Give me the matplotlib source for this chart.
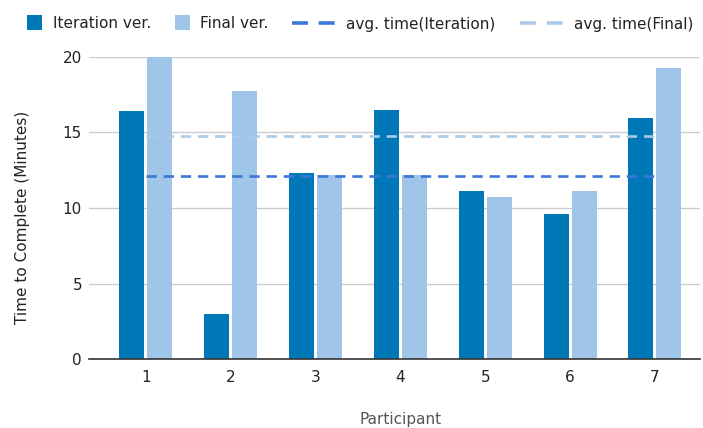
import numpy as np
import matplotlib
matplotlib.use("Agg")
import matplotlib.pyplot as plt
from matplotlib.patches import Rectangle
from matplotlib.lines import Line2D

participants = [1, 2, 3, 4, 5, 6, 7]
iteration_ver = [16.4, 3.0, 12.3, 16.45, 11.15, 9.6, 15.95]
final_ver = [19.95, 17.75, 12.2, 12.2, 10.75, 11.1, 19.25]
y_ticks = [0, 5, 10, 15, 20]
legend_labels = ["Iteration ver.", "Final ver.", "avg. time(Iteration)", "avg. time(Final)"]

c_iter = "#0077b6"
c_final = "#9fc5e8"
c_avg_iter = "#3c78d8"
c_avg_final = "#a9cbea"
c_text = "#222222"

plt.rcParams["font.family"] = ["DejaVu Sans"]

W, H = 703, 428
fig = plt.figure(figsize=(W / 100, H / 100), dpi=100)
ax = fig.add_axes([0.1266, 0.1605, 0.869, 0.707])

x = np.array(participants, dtype=float)
w = 0.295
gap = 0.035
ax.bar(x - w / 2 - gap / 2, iteration_ver, width=w, color=c_iter, zorder=2)
ax.bar(x + w / 2 + gap / 2, final_ver, width=w, color=c_final, zorder=2)

avg_iter = np.mean(iteration_ver)
avg_final = np.mean(final_ver)
dash = (0, (3.9, 2.6))
ax.plot(x, [avg_iter] * len(x), color=c_avg_iter, lw=1.9, ls=dash, zorder=3)
ax.plot(x, [avg_final] * len(x), color=c_avg_final, lw=1.9, ls=dash, zorder=3)

ax.set_xlim(0.33, 7.53)
ax.set_ylim(0, 20)
ax.set_xticks(participants)
ax.set_xticklabels([str(p) for p in participants])
ax.set_yticks(y_ticks)
ax.tick_params(length=0, labelsize=11, colors=c_text, pad=8)
ax.tick_params(axis="y", pad=5)
ax.grid(axis="y", color="#cccccc", lw=1, zorder=0)
ax.set_axisbelow(True)
for s in ["top", "right", "left"]:
    ax.spines[s].set_visible(False)
ax.spines["bottom"].set_color("#333333")
ax.spines["bottom"].set_linewidth(1.2)
ax.spines["bottom"].set_zorder(4)

ax.set_xlabel("Participant", fontsize=11, color="#555555")
ax.xaxis.set_label_coords(0.51, -0.175)
ax.set_ylabel("Time to Complete (Minutes)", fontsize=11, color=c_text)
ax.yaxis.set_label_coords(-0.097, 0.469)


# Legend row across the top, laid out in pixel units
def fx(px):
    return px / W


def fy(py):
    return 1 - py / H


ly = 22.5
for left, color in [(27, c_iter), (175, c_final)]:
    fig.add_artist(Rectangle((fx(left), fy(ly + 7.5)), fx(15), 15 / H,
                             facecolor=color, edgecolor="none",
                             transform=fig.transFigure))
for left, right, color in [(292, 336, c_avg_iter), (520, 563, c_avg_final)]:
    fig.add_artist(Line2D([fx(left), fx(right)], [fy(ly), fy(ly)], color=color,
                          lw=2.6, ls=(0, (4.4, 3.0)), dash_capstyle="butt",
                          transform=fig.transFigure))
for left, text in zip([53, 200, 346, 574], legend_labels):
    fig.text(fx(left), fy(ly), text, fontsize=11, color=c_text,
             ha="left", va="center_baseline")

fig.savefig("out.png", dpi=100)
